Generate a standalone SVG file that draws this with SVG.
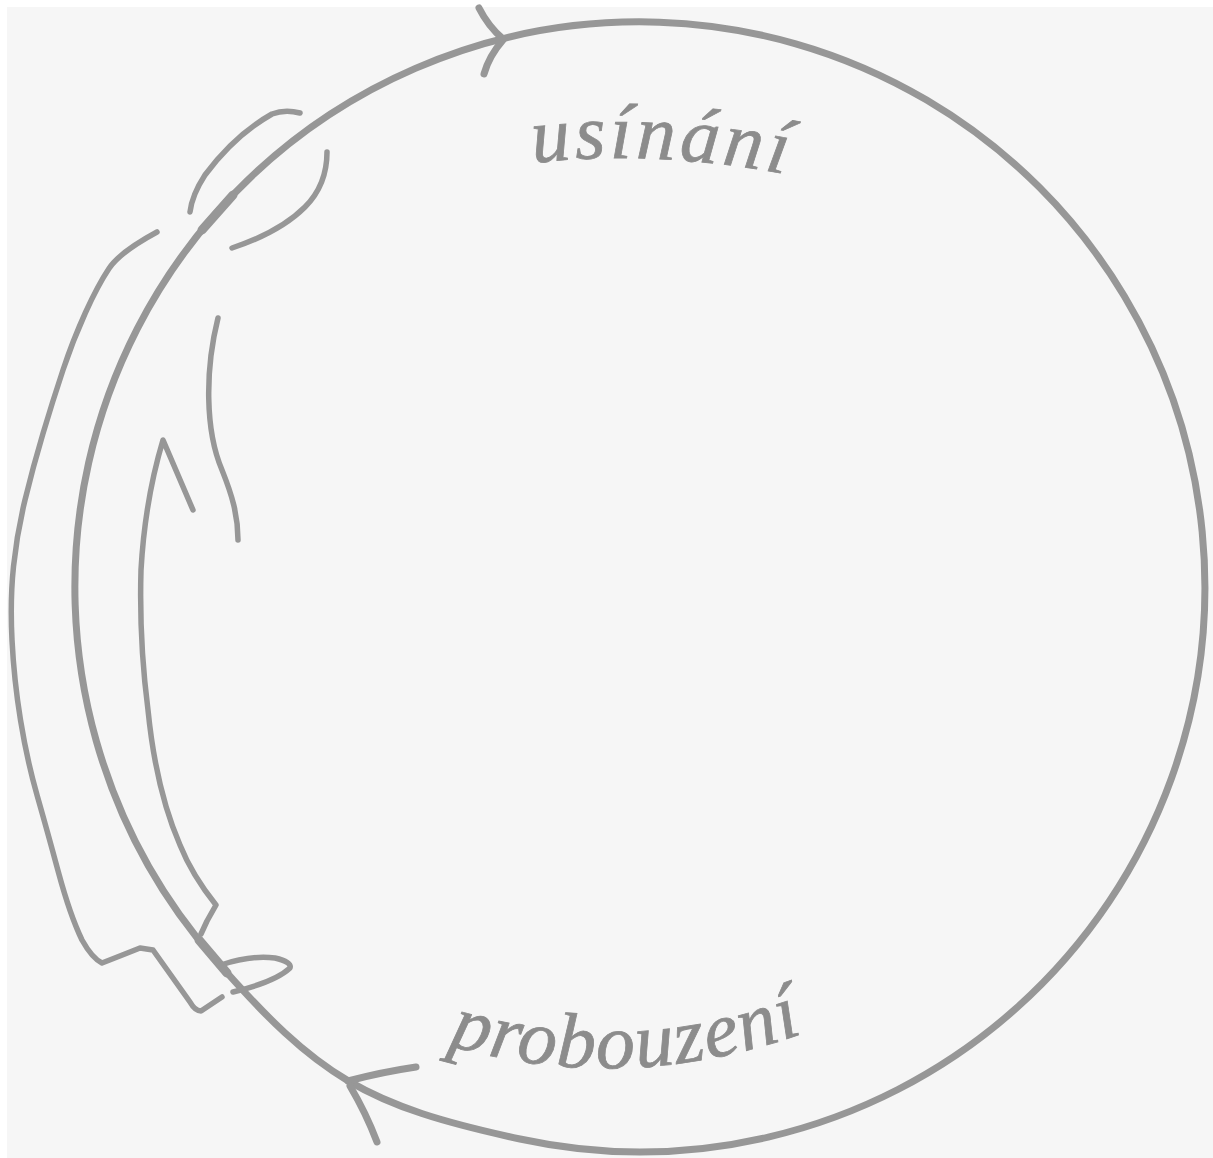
<svg xmlns="http://www.w3.org/2000/svg" width="1213" height="1158" viewBox="0 0 1213 1158">
  <defs>
    <style>
      .ln { fill: none; stroke: #979797; stroke-linecap: round; stroke-linejoin: round; }
      .main { stroke-width: 7; }
      .thin { stroke-width: 5.5; }
      .lbl { font-family: "Liberation Serif", "DejaVu Serif", serif; font-style: italic; font-size: 78px; fill: #8c8c8c; stroke: #8c8c8c; stroke-width: 0.8; }
    </style>
    <path id="arcTop" d="M 533,163 Q 660,148 805,178"/>
    <path id="arcBottom" d="M 448,1045 Q 630,1099 818,1028"/>
  </defs>
  <rect x="0" y="0" width="1213" height="1158" fill="#ffffff"/>
  <rect x="7" y="7" width="1206" height="1151" fill="#f6f6f6"/>

  <g id="connectors">
    <g id="cycle">
      <path class="ln main" d="M 215,959.3 A 565 565 0 1 1 520,1139 C 365.6,1105.5 319.1,1078.1 215,959.3 Z"/>
      <path class="ln" stroke-width="9" d="M 202,230 L 233,195"/>
      <path class="ln" stroke-width="9" d="M 199,940 L 227,973"/>
    </g>
    <g id="arrow-top">
      <path class="ln main" d="M 479,8 Q 488,26 503,39"/>
      <path class="ln main" d="M 503,40 Q 489,56 484,74"/>
    </g>
    <g id="arrow-bottom">
      <path class="ln main" d="M 348,1081 Q 382,1072 416,1067"/>
      <path class="ln main" d="M 350,1086 Q 366,1113 377,1142"/>
    </g>
  </g>

  <g id="outer-line">
    <path class="ln thin" d="M 157,232 Q 120,252 109,268.5 Q 98,285 85.5,312.5 Q 73,340 63,370 Q 53,400 43,433.5 Q 33,467 25,500 Q 17,533 13.5,566.5 Q 10,600 12,640 Q 14,680 20.5,720 Q 27,760 37,795 Q 47,830 58.5,872.5 Q 70,915 82,940 Q 92,958 102,963 Q 120,956 140,948 L 153,950 L 190,1002 Q 195,1011 201,1011 L 222,997"/>
  </g>

  <g id="inner-line">
    <path class="ln thin" d="M 193,510 L 163,440 Q 145,500 141,570 Q 139,640 148,710 Q 156,790 180,845 Q 192,875 216,905 L 207,921 L 201,934"/>
  </g>

  <g id="mid-line">
    <path class="ln thin" d="M 218,318 C 205,370 205,430 222,470 C 232,495 238,515 238,540"/>
  </g>

  <g id="brackets">
    <path class="ln thin" d="M 300,113 Q 285,109 272,114 Q 235,135 205,175 Q 192,195 190,212"/>
    <path class="ln thin" d="M 327,152 Q 327,185 305,207 Q 280,232 232,248"/>
  </g>

  <g id="loop">
    <path class="ln thin" d="M 221,965 Q 250,955 275,958 Q 292,962 290,968 Q 275,982 233,992"/>
  </g>

  <g id="label-usinani">
    <text class="lbl" letter-spacing="4"><textPath href="#arcTop">usínání</textPath></text>
  </g>
  <g id="label-probouzeni">
    <text class="lbl" letter-spacing="1.5"><textPath href="#arcBottom">probouzení</textPath></text>
  </g>
</svg>
